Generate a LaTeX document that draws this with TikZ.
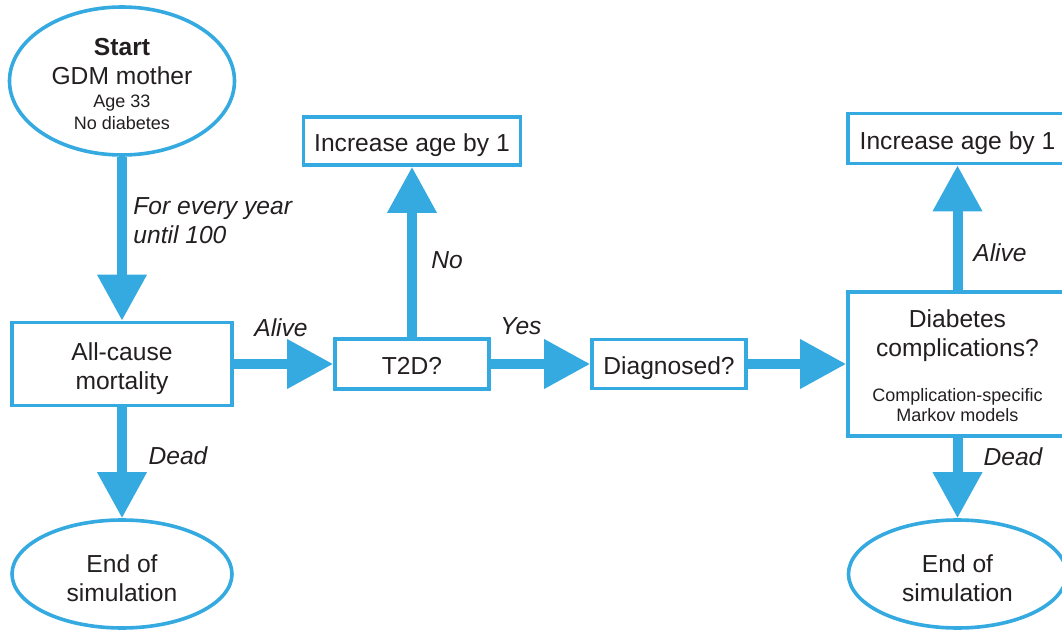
\documentclass[tikz,border=0pt]{standalone}
\usepackage{fontspec}
\setmainfont{Liberation Sans}
\usetikzlibrary{shapes.geometric, arrows.meta}

\definecolor{gdmblue}{RGB}{52,170,224}
\definecolor{gdmtext}{RGB}{35,31,32}

\newcommand{\mainsize}{\fontsize{12.3}{14.5}\selectfont}
\newcommand{\smallsize}{\fontsize{9}{10}\selectfont}
\newcommand{\toppad}[1]{\rule{0pt}{#1}}

\tikzset{
    lift/.style={execute at begin node={\toppad{#1}}},
    stepbox/.style={draw=gdmblue, line width=1.8pt, fill=white, text=gdmtext, font=\mainsize, align=center, inner sep=0pt, text depth=0pt, lift=10.8pt},
    endnode/.style={stepbox, ellipse},
    flow/.style={draw=gdmblue, line width=5pt, -{Triangle[width=23.5pt, length=23pt]}},
    lbl/.style={font=\mainsize\itshape, text=gdmtext, inner sep=0pt}
}

\begin{document}
\begin{tikzpicture}[x=0.5pt, y=-0.5pt]
    \path[use as bounding box, clip] (0,0) rectangle (1062,631);

    % Start
    \node[endnode, minimum width=112.5pt, minimum height=74pt] (start) at (122,81)
        {\toppad{11.3pt}{\bfseries Start}\\GDM mother\\[-3pt]{\smallsize Age 33}\\[-3.5pt]{\smallsize No diabetes}};

    % Boxes
    \node[stepbox, minimum width=110pt, minimum height=41.5pt] (allcause) at (122,364) {\toppad{10.8pt}All-cause\\mortality};
    \node[stepbox, lift=9.8pt, minimum width=77pt, minimum height=25pt] (t2d) at (412,364) {T2D?};
    \node[stepbox, minimum width=108.5pt, minimum height=24pt] (inc1) at (412,141) {Increase age by 1};
    \node[stepbox, minimum width=77pt, minimum height=24.5pt] (diag) at (669,364) {Diagnosed?};
    \node[stepbox, minimum width=109.5pt, minimum height=72pt] (compl) at (957.5,364)
        {\toppad{10.8pt}Diabetes\\complications?\\[8pt]{\smallsize Complication-specific}\\[-4.5pt]{\smallsize Markov models}};
    \node[stepbox, minimum width=109.5pt, minimum height=25pt] (inc2) at (957.5,138.5) {Increase age by 1};

    % End of simulation
    \node[endnode, minimum width=110pt, minimum height=54pt] (end1) at (122,574) {\toppad{12.8pt}End of\\simulation};
    \node[endnode, minimum width=109pt, minimum height=54pt] (end2) at (957.5,574) {\toppad{12.8pt}End of\\simulation};

    % Arrows
    \draw[flow] (start) -- (allcause);
    \draw[flow] (allcause) -- (end1);
    \draw[flow] (allcause) -- (t2d);
    \draw[flow] (t2d) -- (inc1);
    \draw[flow] (t2d) -- (diag);
    \draw[flow] (diag) -- (compl);
    \draw[flow] (compl) -- (inc2);
    \draw[flow] (compl) -- (end2);

    % Labels
    \node[lbl, anchor=west, align=left] (every) at (133,221) {For every year\\until 100};
    \node[lbl] (alive1) at (281,328) {Alive};
    \node[lbl] (dead1) at (178,456) {Dead};
    \node[lbl] (no) at (447,260) {No};
    \node[lbl] (yes) at (521,326) {Yes};
    \node[lbl] (alive2) at (1000,253) {Alive};
    \node[lbl] (dead2) at (1013,457) {Dead};
\end{tikzpicture}
\end{document}
